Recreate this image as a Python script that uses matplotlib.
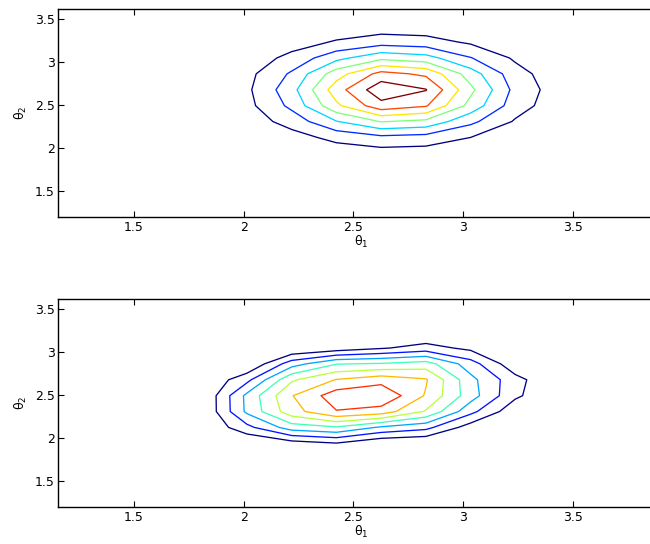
import numpy as np
import matplotlib
matplotlib.use("Agg")
import matplotlib.pyplot as plt

# grid of parameter values (theta1 along columns, theta2 along rows)
theta1 = [1.2, 1.404, 1.608, 1.812, 2.015, 2.219, 2.423, 2.627, 2.831, 3.035, 3.238, 3.442, 3.646, 3.85]
theta2 = [1.2, 1.385, 1.569, 1.754, 1.938, 2.123, 2.308, 2.492, 2.677, 2.862, 3.046, 3.231, 3.415, 3.6]

# surface values (x100)
z_top = [
    [0, 0, 0, 0, 0, 0, 0, 0, 0, 0, 0, 0, 0, 0],
    [0, 0, 0, 0, 0, 0, 0, 0, 0, 0, 0, 0, 0, 0],
    [0, 0, 0, 0, 0, 0, 0, 0, 0, 0, 0, 0, 0, 0],
    [0, 0, 0, 0, 0, 1, 2, 2, 2, 1, 1, 0, 0, 0],
    [0, 0, 0, 0, 1, 4, 8, 11, 10, 6, 2, 1, 0, 0],
    [0, 0, 0, 1, 4, 12, 26, 35, 32, 20, 8, 2, 0, 0],
    [0, 0, 0, 2, 9, 28, 59, 81, 75, 45, 18, 5, 1, 0],
    [0, 0, 0, 3, 14, 45, 96, 133, 122, 73, 29, 8, 1, 0],
    [0, 0, 0, 3, 16, 53, 111, 154, 141, 85, 34, 9, 2, 0],
    [0, 0, 0, 3, 14, 43, 91, 127, 116, 70, 28, 7, 1, 0],
    [0, 0, 0, 2, 8, 26, 54, 75, 68, 41, 17, 4, 1, 0],
    [0, 0, 0, 1, 3, 11, 22, 31, 28, 17, 7, 2, 0, 0],
    [0, 0, 0, 0, 1, 3, 7, 9, 8, 5, 2, 1, 0, 0],
    [0, 0, 0, 0, 0, 1, 1, 2, 2, 1, 0, 0, 0, 0],
]

# surface values (x100)
z_bottom = [
    [0, 0, 0, 0, 0, 0, 0, 0, 0, 0, 0, 0, 0, 0],
    [0, 0, 0, 0, 0, 0, 0, 0, 0, 0, 0, 0, 0, 0],
    [0, 0, 0, 0, 0, 0, 0, 0, 0, 0, 0, 0, 0, 0],
    [0, 0, 0, 0, 0, 0, 0, 0, 0, 0, 0, 0, 0, 0],
    [0, 0, 0, 0, 0, 11, 19, 3, 0, 0, 0, 0, 0, 0],
    [0, 0, 0, 0, 34, 70, 78, 57, 46, 10, 0, 0, 0, 0],
    [0, 0, 0, 0, 64, 112, 139, 131, 98, 46, 6, 0, 0, 0],
    [0, 0, 0, 0, 65, 119, 151, 158, 118, 69, 24, 0, 0, 0],
    [0, 0, 0, 0, 34, 97, 121, 132, 122, 66, 27, 0, 0, 0],
    [0, 0, 0, 0, 0, 51, 79, 82, 89, 49, 6, 0, 0, 0],
    [0, 0, 0, 0, 0, 0, 8, 18, 28, 15, 0, 0, 0, 0],
    [0, 0, 0, 0, 0, 0, 0, 0, 0, 0, 0, 0, 0, 0],
    [0, 0, 0, 0, 0, 0, 0, 0, 0, 0, 0, 0, 0, 0],
    [0, 0, 0, 0, 0, 0, 0, 0, 0, 0, 0, 0, 0, 0],
]

levels_top = [20, 40, 60, 80, 100, 120, 140]
levels_bottom = [20, 40, 60, 80, 100, 120, 140]
ticks = [1.5, 2, 2.5, 3, 3.5]
tick_labels = ['1.5', '2', '2.5', '3', '3.5']

cmap = plt.get_cmap('jet')
colors_top = [cmap(k / 6) for k in range(7)]
colors_bottom = [cmap(k / 7) for k in range(7)]

fig = plt.figure(figsize=(6.5, 5.44), dpi=100)
panels = [(z_top, levels_top, colors_top, 0.6006),
          (z_bottom, levels_bottom, colors_bottom, 0.0675)]
for Z, lev, col, bottom in panels:
    ax = fig.add_axes([0.0897, bottom, 0.9334, 0.3829])
    ax.contour(theta1, theta2, np.array(Z, dtype=float), levels=lev,
               colors=col, linewidths=0.95)
    ax.set_xlim(1.155, 3.9213)
    ax.set_ylim(1.195, 3.616)
    ax.set_xticks(ticks)
    ax.set_xticklabels(tick_labels)
    ax.set_yticks(ticks)
    ax.set_yticklabels(tick_labels)
    ax.tick_params(direction='in', length=4, width=0.8, top=True, right=True,
                   labelsize=9, pad=2.5, colors='black')
    for s in ax.spines.values():
        s.set_linewidth(1.0)
    ax.set_xlabel('θ$_1$', fontsize=9, labelpad=0)
    ax.set_ylabel('θ$_2$', fontsize=9, labelpad=4)

fig.savefig('out.png', dpi=100)
